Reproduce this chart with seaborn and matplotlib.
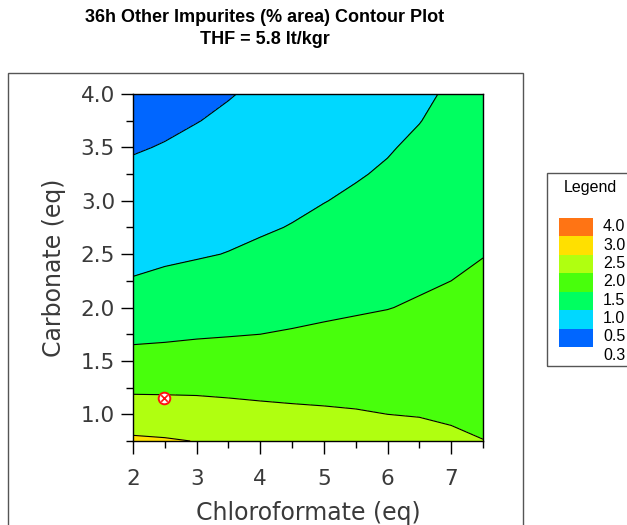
import numpy as np
import matplotlib
matplotlib.use("Agg")
import matplotlib.pyplot as plt
from matplotlib.patches import Rectangle
from matplotlib.ticker import MultipleLocator, FormatStrFormatter
import seaborn as sns

# Response grid: 36h other impurities (% area), THF = 5.8 lt/kgr
chloroformate = [2.0, 2.5, 3.0, 3.5, 4.0, 4.5, 5.0, 5.5, 6.0, 6.5, 7.0, 7.5]
carbonate = [0.75, 1.0, 1.25, 1.5, 1.75, 2.0, 2.25, 2.5, 2.75, 3.0, 3.25, 3.5, 3.75, 4.0]
impurities = [
    [2.57, 2.54, 2.49, 2.45, 2.40, 2.34, 2.30, 2.26, 2.22, 2.16, 2.07, 2.005],
    [2.24, 2.22, 2.19, 2.15, 2.11, 2.08, 2.055, 2.03, 2.00, 1.98, 1.95, 1.93],
    [1.92, 1.92, 1.92, 1.905, 1.89, 1.88, 1.88, 1.88, 1.87, 1.87, 1.86, 1.85],
    [1.64, 1.66, 1.68, 1.69, 1.70, 1.71, 1.72, 1.74, 1.745, 1.76, 1.77, 1.78],
    [1.41, 1.43, 1.46, 1.48, 1.50, 1.53, 1.56, 1.59, 1.62, 1.65, 1.68, 1.705],
    [1.22, 1.25, 1.29, 1.325, 1.356, 1.39, 1.43, 1.46, 1.49, 1.54, 1.59, 1.63],
    [1.02, 1.07, 1.12, 1.17, 1.21, 1.27, 1.32, 1.36, 1.40, 1.45, 1.50, 1.56],
    [0.90, 0.94, 0.97, 1.01, 1.07, 1.14, 1.21, 1.26, 1.31, 1.37, 1.43, 1.49],
    [0.79, 0.83, 0.88, 0.92, 0.96, 1.015, 1.095, 1.16, 1.225, 1.30, 1.37, 1.44],
    [0.68, 0.73, 0.78, 0.83, 0.88, 0.93, 0.99, 1.06, 1.135, 1.22, 1.31, 1.38],
    [0.575, 0.625, 0.685, 0.74, 0.79, 0.85, 0.91, 0.97, 1.045, 1.145, 1.24, 1.32],
    [0.47, 0.52, 0.59, 0.65, 0.71, 0.77, 0.83, 0.90, 0.97, 1.07, 1.18, 1.27],
    [0.385, 0.43, 0.49, 0.56, 0.63, 0.69, 0.76, 0.83, 0.91, 0.99, 1.115, 1.21],
    [0.31, 0.35, 0.41, 0.48, 0.56, 0.61, 0.69, 0.77, 0.85, 0.93, 1.05, 1.15],
]
levels = [0.3, 0.5, 1.0, 1.5, 2.0, 2.5, 3.0, 4.0]
level_labels = ["0.3", "0.5", "1.0", "1.5", "2.0", "2.5", "3.0", "4.0"]
band_colors = ["#0066FF", "#00D8FF", "#00FF60", "#48FF0C", "#B0FF10", "#FFE000", "#FF7414"]
design_chloroformate = [2.48]
design_carbonate = [1.15]

sns.set_theme(style="white")
plt.rcParams["font.family"] = ["DejaVu Sans"]

W, H = 627, 525
fig = plt.figure(figsize=(W / 100, H / 100), dpi=100)


def fx(px):
    return px / W


def fy(py):
    return 1 - py / H


ax = fig.add_axes([fx(133), fy(441), (483 - 133) / W, (441 - 94) / H])

X, Y = np.meshgrid(chloroformate, carbonate)
Z = np.array(impurities)
ax.contourf(X, Y, Z, levels=levels, colors=band_colors)
ax.contour(X, Y, Z, levels=levels[1:-2], colors="black", linewidths=0.8)

sns.scatterplot(x=design_chloroformate, y=design_carbonate, ax=ax, marker="o", s=70,
                color="white", edgecolor="#FF1010", linewidth=1.4, zorder=5, legend=False)
ax.scatter(design_chloroformate, design_carbonate, marker="x", s=22, color="#FF1010",
           linewidths=1.2, zorder=6)

ax.set_xlim(2, 7.5)
ax.set_ylim(0.75, 4.0)
ax.xaxis.set_major_locator(MultipleLocator(1))
ax.xaxis.set_minor_locator(MultipleLocator(0.5))
ax.yaxis.set_major_locator(MultipleLocator(0.5))
ax.yaxis.set_minor_locator(MultipleLocator(0.25))
ax.yaxis.set_major_formatter(FormatStrFormatter("%.1f"))

for sp in ax.spines.values():
    sp.set_visible(True)
    sp.set_color("black")
    sp.set_linewidth(1.0)

ax.tick_params(axis="both", which="major", direction="out", length=9, width=1,
               color="black", labelsize=15.5, labelcolor="#3a3a3a",
               bottom=True, left=True, top=False, right=False)
ax.tick_params(axis="both", which="minor", direction="out", length=5, width=1,
               color="black", bottom=True, left=True, top=False, right=False)
ax.tick_params(axis="x", which="major", pad=11)
ax.tick_params(axis="y", which="major", pad=4)

ax.set_xlabel("Chloroformate (eq)", fontsize=17, color="#3a3a3a")
ax.set_ylabel("Carbonate (eq)", fontsize=17, color="#3a3a3a")
ax.xaxis.set_label_coords(0.5, -0.172)
ax.yaxis.set_label_coords(-0.19, 0.5)

title_font = dict(family=["Liberation Sans", "DejaVu Sans"], weight="bold",
                  fontsize=13, ha="center", va="center", color="black")
fig.text(fx(265), fy(18), "36h Other Impurites (% area) Contour Plot", **title_font)
fig.text(fx(265), fy(40), "THF = 5.8 lt/kgr", **title_font)

# outer frame around the plot area
fig.add_artist(Rectangle((fx(8), -0.1), fx(523) - fx(8), fy(73) + 0.1,
                         transform=fig.transFigure, fill=False,
                         edgecolor="#555555", linewidth=1.0))

# legend panel
fig.add_artist(Rectangle((fx(547), fy(366)), 0.2, fy(173) - fy(366),
                         transform=fig.transFigure, fill=False,
                         edgecolor="#555555", linewidth=1.0))
legend_font = dict(family=["Liberation Sans", "DejaVu Sans"], fontsize=11.5, color="black")
fig.text(fx(590), fy(188), "Legend", ha="center", va="center", **legend_font)
box_top, box_h = 218, 18.43
for i, col in enumerate(band_colors[::-1]):
    top = box_top + i * box_h
    fig.add_artist(Rectangle((fx(559), fy(top + box_h)), (593 - 559) / W, box_h / H,
                             transform=fig.transFigure, facecolor=col,
                             edgecolor="none"))
for i, lab in enumerate(level_labels[::-1]):
    fig.text(fx(603), fy(227 + 18.3 * i), lab, ha="left", va="center", **legend_font)

fig.savefig("out.png", dpi=100)
